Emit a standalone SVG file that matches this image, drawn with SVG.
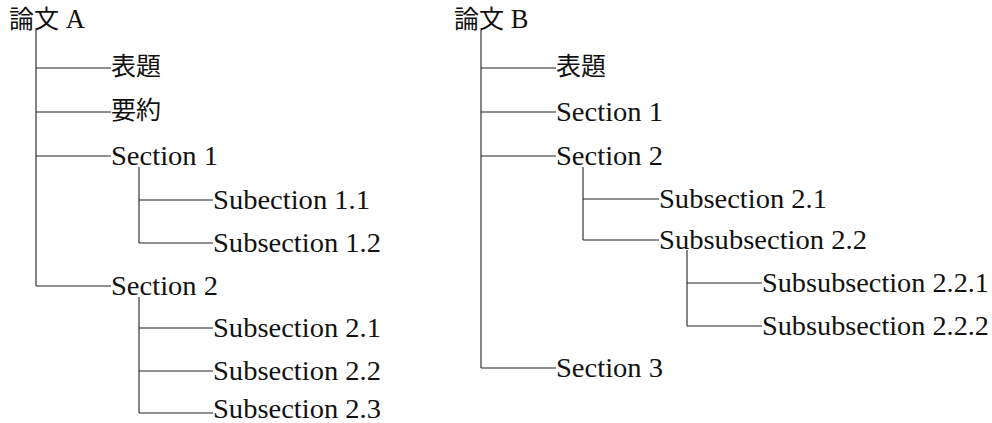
<svg xmlns="http://www.w3.org/2000/svg" width="992" height="423" viewBox="0 0 992 423">
<style>
text{font-family:"Liberation Serif","Times New Roman",serif;font-size:26.5px;fill:#111}
.j{font-family:"Noto Sans CJK JP","Noto Sans CJK SC",sans-serif;font-size:25px}
.c{fill:none;stroke:#222;stroke-width:1.1}
</style>
<rect width="992" height="423" fill="#fff"/>
<g id="connectors" class="c">
<path d="M36 30V286M36 68H111M36 112H111M36 156H111M36 286H111"/>
<path d="M139 167V243M139 200H213M139 243H213"/>
<path d="M139 297V413M139 328H213M139 371H213M139 413H213"/>
<path d="M481 30V368M481 68H556M481 112H556M481 156H556M481 368H556"/>
<path d="M583 167V240M583 199H659M583 240H659"/>
<path d="M687 250V326M687 283H762M687 326H762"/>
</g>
<g id="rootA"><text x="9" y="28"><tspan class="j">論文</tspan> A</text></g>
<g id="a_title"><text class="j" x="111" y="75">表題</text></g>
<g id="a_abstract"><text class="j" x="111" y="119">要約</text></g>
<g id="a_sec1"><text x="111" y="165" textLength="107" lengthAdjust="spacingAndGlyphs">Section 1</text></g>
<g id="a_sub11"><text x="213" y="209" textLength="157" lengthAdjust="spacingAndGlyphs">Subection 1.1</text></g>
<g id="a_sub12"><text x="213" y="252" textLength="168" lengthAdjust="spacingAndGlyphs">Subsection 1.2</text></g>
<g id="a_sec2"><text x="111" y="295" textLength="107" lengthAdjust="spacingAndGlyphs">Section 2</text></g>
<g id="a_sub21"><text x="213" y="337" textLength="168" lengthAdjust="spacingAndGlyphs">Subsection 2.1</text></g>
<g id="a_sub22"><text x="213" y="380" textLength="168" lengthAdjust="spacingAndGlyphs">Subsection 2.2</text></g>
<g id="a_sub23"><text x="213" y="418" textLength="168" lengthAdjust="spacingAndGlyphs">Subsection 2.3</text></g>
<g id="rootB"><text x="454" y="28"><tspan class="j">論文</tspan> B</text></g>
<g id="b_title"><text class="j" x="556" y="75">表題</text></g>
<g id="b_sec1"><text x="556" y="121" textLength="107" lengthAdjust="spacingAndGlyphs">Section 1</text></g>
<g id="b_sec2"><text x="556" y="165" textLength="107" lengthAdjust="spacingAndGlyphs">Section 2</text></g>
<g id="b_sub21"><text x="659" y="208" textLength="168" lengthAdjust="spacingAndGlyphs">Subsection 2.1</text></g>
<g id="b_subsub22"><text x="659" y="249" textLength="208" lengthAdjust="spacingAndGlyphs">Subsubsection 2.2</text></g>
<g id="b_subsub221"><text x="762" y="292" textLength="227" lengthAdjust="spacingAndGlyphs">Subsubsection 2.2.1</text></g>
<g id="b_subsub222"><text x="762" y="335" textLength="227" lengthAdjust="spacingAndGlyphs">Subsubsection 2.2.2</text></g>
<g id="b_sec3"><text x="556" y="377" textLength="107" lengthAdjust="spacingAndGlyphs">Section 3</text></g>
</svg>
